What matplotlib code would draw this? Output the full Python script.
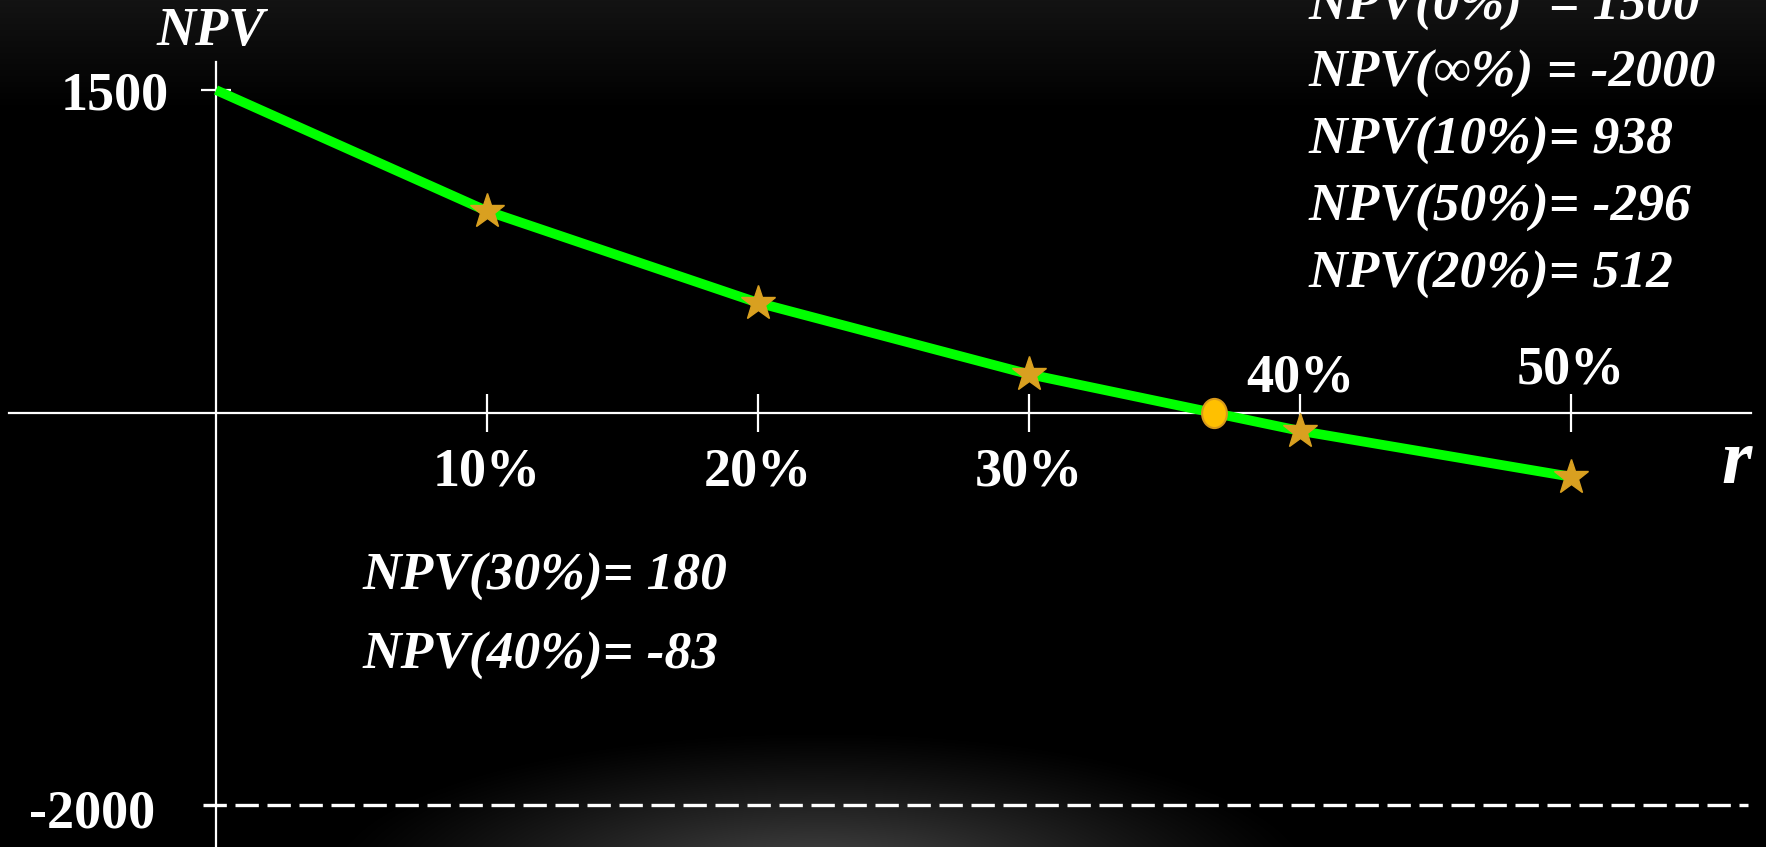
"""NPV profile slide: NPV vs discount rate r, with the IRR crossing marked."""
import numpy as np
import matplotlib
matplotlib.use("Agg")
import matplotlib.pyplot as plt
from matplotlib.path import Path
from matplotlib import transforms

# ---- data -------------------------------------------------------------
rates = [0, 10, 20, 30, 40, 50]              # discount rate, %
npv = [1500, 938, 512, 180, -83, -296]        # NPV at each rate
npv_inf = -2000                               # NPV as r -> infinity
xticks = [10, 20, 30, 40, 50]
xlabels = ["10%", "20%", "30%", "40%", "50%"]
yticks = [1500, -2000]
ylabels = ["1500", "-2000"]
notes_right = ["NPV(0%)  = 1500", "NPV(\u221e%) = -2000", "NPV(10%)= 938",
               "NPV(50%)= -296", "NPV(20%)= 512"]
notes_left = ["NPV(30%)= 180", "NPV(40%)= -83"]

irr = float(np.interp(0, npv[::-1], rates[::-1]))   # where the curve crosses zero

# ---- layout -----------------------------------------------------------
W, H = 1766, 847
SERIF = ["Liberation Serif", "DejaVu Serif"]
GREEN, STAR, DOT = "#00FF00", "#D9A020", "#FFC000"

# y axis is "broken": values below KNEE are squeezed so -2000 fits the slide
KNEE, K = -400.0, 0.8875


def fwd(y):
    y = np.asarray(y, float)
    return np.where(y >= KNEE, y, KNEE + (y - KNEE) * K)


def inv(t):
    t = np.asarray(t, float)
    return np.where(t >= KNEE, t, KNEE + (t - KNEE) / K)


def fx(px):
    return px / W


def fy(py):
    return 1 - py / H


fig = plt.figure(figsize=(W / 100, H / 100), dpi=100, facecolor="black")

# background: faint top haze + soft glow at bottom centre
bg = fig.add_axes([0, 0, 1, 1], zorder=-5)
yy, xx = np.mgrid[0:H, 0:W]
top = 0.075 * np.clip(1 - yy / 110.0, 0, 1)
r = np.sqrt(((xx - 820) / 500.0) ** 2 + ((yy - 880) / 150.0) ** 2)
glow = 0.30 * np.clip(1 - r, 0, 1) ** 1.2
g = np.clip(top + glow, 0, 1)
bg.imshow(np.dstack([g, g, g]), aspect="auto", interpolation="bilinear")
bg.axis("off")

ax = fig.add_axes([0, 0, 1, 1])
ax.set_facecolor("none")
ax.set_yscale("function", functions=(fwd, inv))
ax.set_xlim(-216 / 27.1, (W - 216) / 27.1)
ax.set_ylim(float(inv(-(H - 413) / 0.2153)), 413 / 0.2153)

for s in ("top", "right"):
    ax.spines[s].set_visible(False)
ax.spines["left"].set_position(("data", 0))
ax.spines["bottom"].set_position(("data", 0))
ax.spines["left"].set_bounds(ax.get_ylim()[0], (413 - 62) / 0.2153)
ax.spines["bottom"].set_bounds((9 - 216) / 27.1, (1751 - 216) / 27.1)
for s in ("left", "bottom"):
    ax.spines[s].set_color("white")
    ax.spines[s].set_linewidth(1.6)

ax.set_xticks(xticks)
ax.set_yticks(yticks[:1])
ax.tick_params(axis="x", direction="inout", length=28, width=1.6, color="white",
               labelbottom=False)
ax.tick_params(axis="y", direction="inout", length=22, width=1.6, color="white",
               labelleft=False)
ax.yaxis.set_minor_locator(matplotlib.ticker.NullLocator())
ax.xaxis.set_minor_locator(matplotlib.ticker.NullLocator())

# NPV(inf) asymptote
ax.axhline(npv_inf, xmin=fx(203), xmax=fx(1748), color="white", lw=2.4,
           ls=(0, (7.0, 2.6)), zorder=2)

# NPV profile
ax.plot(rates, npv, color=GREEN, lw=7, solid_capstyle="butt", zorder=3)
ax.plot(rates[1:], npv[1:], ls="none", marker="*", ms=26, color=STAR,
        mec=STAR, zorder=4)
circ = Path.unit_circle()
oval = Path(circ.vertices * [0.85, 1.0], circ.codes)
ax.plot([irr], [0], ls="none", marker=oval, ms=21, mfc=DOT, mec="#D99A1A",
        mew=1.5, zorder=5)

# tick labels (x labels sit below for 10-30 %, above for 40-50 %)
bt = transforms.blended_transform_factory(ax.transData, fig.transFigure)
label_base = [485, 485, 485, 391, 383]
for x, lab, b in zip(xticks, xlabels, label_base):
    ax.text(x, fy(b), lab, transform=bt, ha="center", va="baseline",
            color="white", fontsize=39, fontweight="bold", family=SERIF)
fig.text(fx(115), fy(110), ylabels[0], ha="center", va="baseline", color="white",
         fontsize=39, fontweight="bold", family=SERIF)
fig.text(fx(92), fy(827), ylabels[1], ha="center", va="baseline", color="white",
         fontsize=39, fontweight="bold", family=SERIF)

# axis titles
fig.text(fx(211), fy(45), "NPV", ha="center", va="baseline", color="white",
         fontsize=39, fontweight="bold", style="italic", family=SERIF)
fig.text(fx(1737), fy(483), "r", ha="center", va="baseline", color="white",
         fontsize=56, fontweight="bold", style="italic", family=SERIF)

# notes
for i, t in enumerate(notes_right):
    fig.text(fx(1308), fy(20 + 67 * i), t, ha="left", va="baseline", color="white",
             fontsize=38.5, fontweight="bold", style="italic", family=SERIF)
for i, t in enumerate(notes_left):
    fig.text(fx(363), fy(590 + 79 * i), t, ha="left", va="baseline", color="white",
             fontsize=38.5, fontweight="bold", style="italic", family=SERIF)

fig.savefig("out.png", dpi=100, facecolor="black")
